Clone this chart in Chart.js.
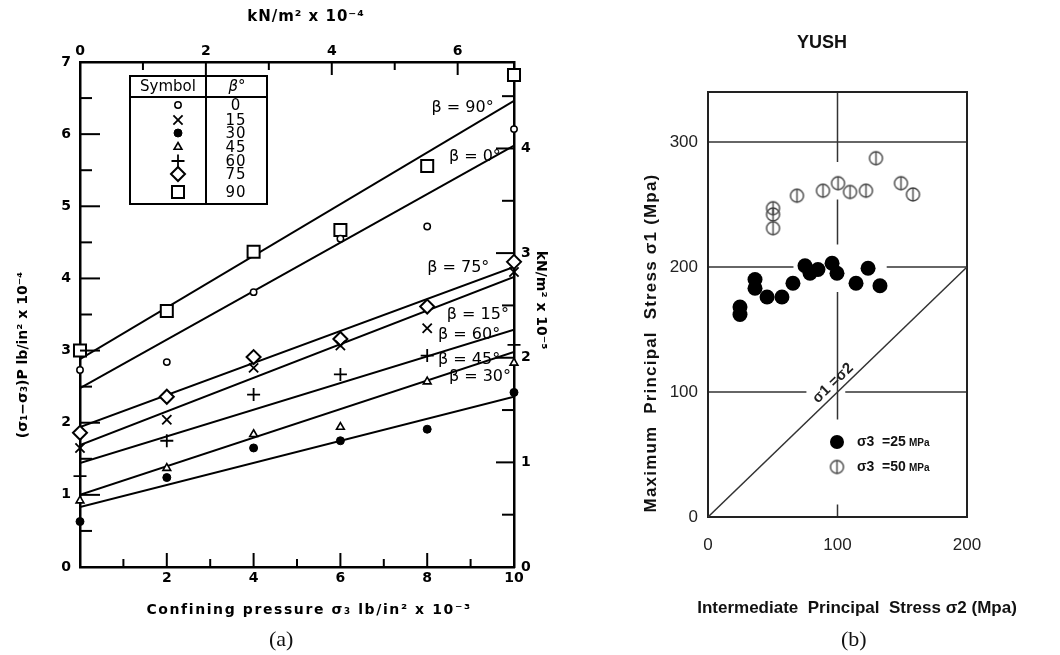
<!DOCTYPE html>
<html>
<head>
<meta charset="utf-8">
<script src="https://cdn.jsdelivr.net/npm/chart.js@4.4.0/dist/chart.umd.min.js"></script>
<style>
  body { margin: 0; background: #fff; width: 1060px; height: 655px; overflow: hidden; position: relative; }
  #wrapA { position: absolute; left: 0; top: 0; width: 560px; height: 655px; }
  #wrapB { position: absolute; left: 620px; top: 0; width: 440px; height: 655px; }
  .cap { position: absolute; font-family: "Liberation Serif", serif; font-size: 22px; color: #111; }
</style>
</head>
<body>
<div id="wrapA"><canvas id="chartA"></canvas></div>
<div id="wrapB"><canvas id="chartB"></canvas></div>
<div class="cap" style="left:269px; top:626px;">(a)</div>
<div class="cap" style="left:841px; top:626px;">(b)</div>
<script>
// ---- panel (a): strength vs confining pressure ----
const PSI_TO_SI = 0.6895; // 10^3 lb/in2 -> 10^4 kN/m2

const sigma3 = [0, 2, 4, 6, 8, 10];
const beta0  = [2.73, 2.84, 3.81, 4.55, 4.72, 6.07];
const beta15 = [1.65, 2.04, 2.76, 3.07, 3.31, 4.09];
const beta30 = [0.63, 1.24, 1.65, 1.75, 1.91, 2.42];
const beta45 = [0.92, 1.37, 1.84, 1.94, 2.57, 2.83];
const beta60 = [1.26, 1.75, 2.39, 2.67, 2.93, 3.08];
const beta75 = [1.86, 2.36, 2.91, 3.16, 3.61, 4.23];
const beta90 = [3.00, 3.55, 4.37, 4.67, 5.56, 6.82];

// fitted lines, ends at sigma3 = 0 and 10
const fitX   = [0, 10];
const fit0   = [2.48, 5.84];
const fit15  = [1.69, 4.02];
const fit30  = [0.83, 2.36];
const fit45  = [1.00, 2.98];
const fit60  = [1.44, 3.29];
const fit75  = [1.94, 4.16];
const fit90  = [2.88, 6.46];

const bottomLabels = [2, 4, 6, 8, 10];
const topLabels = [0, 2, 4, 6];
const leftLabels = [0, 1, 2, 3, 4, 5, 6, 7];
const rightLabels = [0, 1, 2, 3, 4];
const betaNames = ['0', '15', '30', '45', '60', '75', '90'];

// ---- panel (b): YUSH ----
const s2_25 = [24.7, 24.7, 36.3, 36.3, 45.6, 57.1, 65.6, 74.9, 78.8, 84.9, 95.8, 99.6, 114.3, 123.6, 132.8];
const s1_25 = [168, 162, 190, 183, 176, 176, 187, 201, 195, 198, 203, 195, 187, 199, 185];
const s2_50 = [50.2, 50.2, 50.2, 68.7, 88.8, 100.4, 109.7, 122.0, 129.7, 149.0, 158.3];
const s1_50 = [247, 242, 231, 257, 261, 267, 260, 261, 287, 267, 258];
const diagX = [0, 200];
const diagY = [0, 200];
const bTicks = [0, 100, 200, 300];

const pts = (xs, ys) => xs.map((x, i) => ({ x: x, y: ys[i] }));

const fontA = { family: '"DejaVu Sans", sans-serif', size: 14, weight: 'bold' };

const markStyles = [
  { pointStyle: 'circle',   radius: 3.2, fill: '#fff', bw: 1.5 },
  { pointStyle: 'crossRot', radius: 6.5, fill: '#000', bw: 1.8 },
  { pointStyle: 'circle',   radius: 4,   fill: '#000', bw: 1 },
  { pointStyle: 'triangle', radius: 4.5, fill: '#fff', bw: 1.6 },
  { pointStyle: 'cross',    radius: 6.5, fill: '#000', bw: 1.8 },
  { pointStyle: 'rectRot',  radius: 7,   fill: '#fff', bw: 2 },
  { pointStyle: 'rect',     radius: 8.5, fill: '#fff', bw: 2 }
];
const markData = [beta0, beta15, beta30, beta45, beta60, beta75, beta90];
const fitData = [fit0, fit15, fit30, fit45, fit60, fit75, fit90];

const lineLabels = [
  { text: 'β = 90°', x: 8.1,  y: 6.37 },
  { text: 'β = 0°',  x: 8.5,  y: 5.69 },
  { text: 'β = 75°', x: 8.0,  y: 4.15 },
  { text: 'β = 15°', x: 8.45, y: 3.50 },
  { text: 'β = 60°', x: 8.25, y: 3.22 },
  { text: 'β = 45°', x: 8.25, y: 2.87 },
  { text: 'β = 30°', x: 8.5,  y: 2.64 }
];

const datasetsA = [];
markData.forEach((d, i) => {
  const m = markStyles[i];
  datasetsA.push({
    label: 'β=' + betaNames[i], data: pts(sigma3, d), order: 0, clip: false,
    pointStyle: m.pointStyle, pointRadius: m.radius, pointBackgroundColor: m.fill,
    pointBorderColor: '#000', pointBorderWidth: m.bw, showLine: false
  });
});
fitData.forEach((d, i) => {
  datasetsA.push({
    label: 'fit ' + betaNames[i], data: pts(fitX, d), order: 1,
    showLine: true, pointRadius: 0, borderColor: '#000', borderWidth: 2
  });
});

function drawText(ctx, text, x, y, o) {
  ctx.save();
  ctx.translate(x, y);
  if (o.rotate) ctx.rotate(o.rotate);
  ctx.font = o.font;
  ctx.fillStyle = o.color || '#000';
  ctx.textAlign = o.align || 'center';
  ctx.textBaseline = 'middle';
  ctx.letterSpacing = (o.spacing || 0) + 'px';
  ctx.fillText(text, 0, 0);
  ctx.restore();
}

function drawMark(ctx, m, x, y) {
  ctx.save();
  ctx.fillStyle = m.fill;
  ctx.strokeStyle = '#000';
  ctx.lineWidth = m.bw;
  Chart.helpers.drawPoint(ctx, { pointStyle: m.pointStyle, radius: m.radius, rotation: 0, borderWidth: m.bw }, x, y);
  ctx.restore();
}

const decorA = {
  id: 'decorA',
  afterDraw(chart) {
    const { ctx, chartArea: ca, scales } = chart;
    ctx.save();
    ctx.strokeStyle = '#000';
    ctx.lineWidth = 2;
    const seg = (x1, y1, x2, y2) => { ctx.beginPath(); ctx.moveTo(x1, y1); ctx.lineTo(x2, y2); ctx.stroke(); };
    scales.x.ticks.forEach(t => {
      if (t.value <= 0 || t.value >= 10) return;
      const p = scales.x.getPixelForValue(t.value);
      seg(p, ca.bottom, p, ca.bottom - (t.value % 2 === 0 ? 14 : 8));
    });
    scales.x2.ticks.forEach(t => {
      if (t.value <= 0) return;
      const p = scales.x2.getPixelForValue(t.value);
      seg(p, ca.top, p, ca.top + (t.value % 2 === 0 ? 13 : 8));
    });
    scales.y.ticks.forEach(t => {
      if (t.value <= 0 || t.value >= 7) return;
      const p = scales.y.getPixelForValue(t.value);
      seg(ca.left, p, ca.left + (Number.isInteger(t.value) ? 20 : 12), p);
    });
    scales.y2.ticks.forEach(t => {
      if (t.value <= 0) return;
      const p = scales.y2.getPixelForValue(t.value);
      seg(ca.right, p, ca.right - (Number.isInteger(t.value) ? 18 : 12), p);
    });
    ctx.restore();

    // line labels
    const lf = '16px "DejaVu Sans", sans-serif';
    lineLabels.forEach(l => {
      drawText(ctx, l.text, scales.x.getPixelForValue(l.x), scales.y.getPixelForValue(l.y), { font: lf, align: 'left' });
    });

    // axis titles
    drawText(ctx, 'kN/m² x 10⁻⁴', 306, 17, { font: 'bold 15px "DejaVu Sans", sans-serif', spacing: 1 });
    drawText(ctx, 'Confining pressure σ₃ lb/in² x 10⁻³', 309, 610, { font: 'bold 14px "DejaVu Sans", sans-serif', spacing: 1.6 });
    drawText(ctx, '(σ₁−σ₃)P lb/in² x 10⁻⁴', 23, 355, { font: 'bold 14px "DejaVu Sans", sans-serif', rotate: -Math.PI / 2 });
    drawText(ctx, 'kN/m² x 10⁻⁵', 541, 300, { font: 'bold 14px "DejaVu Sans", sans-serif', rotate: Math.PI / 2 });

    // symbol table
    const L = ca.left + 50, T = ca.top + 14, W = 137, H = 128, mid = L + 76;
    ctx.save();
    ctx.strokeStyle = '#000';
    ctx.lineWidth = 2;
    ctx.strokeRect(L, T, W, H);
    seg(L, T + 21, L + W, T + 21);
    seg(mid, T, mid, T + H);
    ctx.restore();
    drawText(ctx, 'Symbol', L + 38, T + 11, { font: '15px "DejaVu Sans", sans-serif' });
    drawText(ctx, 'β°', mid + 31, T + 11, { font: 'italic 15px "DejaVu Sans", sans-serif' });
    const rowY = [29, 44, 57, 71, 85, 98, 116];
    markStyles.forEach((m, i) => {
      drawMark(ctx, m, L + 48, T + rowY[i]);
      drawText(ctx, betaNames[i], mid + 30, T + rowY[i] + 1, { font: '15px "DejaVu Sans", sans-serif', spacing: 1 });
    });
  }
};

new Chart(document.getElementById('chartA'), {
  type: 'scatter',
  data: { datasets: datasetsA },
  options: {
    responsive: true, maintainAspectRatio: false, animation: false, devicePixelRatio: 1,
    layout: { padding: 0 },
    plugins: { legend: { display: false }, tooltip: { enabled: false } },
    scales: {
      x: {
        type: 'linear', position: 'bottom', min: 0, max: 10,
        afterFit: s => { s.height = 88; },
        grid: { display: false, drawTicks: false },
        border: { color: '#000', width: 2.5 },
        ticks: { stepSize: 1, autoSkip: false, includeBounds: false, maxRotation: 0, padding: 3, font: fontA, color: '#000',
          callback: v => bottomLabels.includes(v) ? String(v) : '' }
      },
      x2: {
        type: 'linear', position: 'top', min: 0, max: 10 * PSI_TO_SI,
        afterFit: s => { s.height = 62; },
        grid: { display: false, drawTicks: false },
        border: { color: '#000', width: 2.5 },
        ticks: { stepSize: 1, autoSkip: false, includeBounds: false, maxRotation: 0, padding: 2, font: fontA, color: '#000',
          callback: v => topLabels.includes(v) ? String(v) : '' }
      },
      y: {
        type: 'linear', position: 'left', min: 0, max: 7,
        afterFit: s => { s.width = 80; },
        grid: { display: false, drawTicks: false },
        border: { color: '#000', width: 2.5 },
        ticks: { stepSize: 0.5, autoSkip: false, includeBounds: false, padding: 9, font: fontA, color: '#000',
          callback: v => leftLabels.includes(v) ? String(v) : '' }
      },
      y2: {
        type: 'linear', position: 'right', min: 0, max: 7 * PSI_TO_SI,
        afterFit: s => { s.width = 46; },
        grid: { display: false, drawTicks: false },
        border: { color: '#000', width: 2.5 },
        ticks: { stepSize: 0.5, autoSkip: false, includeBounds: false, padding: 7, font: fontA, color: '#000',
          callback: v => rightLabels.includes(v) ? String(v) : '' }
      }
    }
  },
  plugins: [decorA]
});

// ---- panel (b) ----
function barCircle(r, color) {
  const c = document.createElement('canvas');
  const s = Math.ceil(2 * r + 4);
  c.width = s; c.height = s;
  const g = c.getContext('2d');
  g.strokeStyle = color; g.lineWidth = 1.4;
  g.beginPath(); g.arc(s / 2, s / 2, r, 0, 2 * Math.PI); g.stroke();
  g.beginPath(); g.moveTo(s / 2, s / 2 - r); g.lineTo(s / 2, s / 2 + r); g.stroke();
  return c;
}
const barImg = barCircle(6.5, '#444');
const fontB = { family: '"Liberation Sans", Arial, sans-serif', size: 17 };

// pieces of the hand-drawn grid (breaks left round the points and the label)
const gridV = [{ at: 100, from: [[284, 340], [218, 254], [78, 180], [0, 10]] }];
const gridH = [
  { at: 300, from: [[0, 200]] },
  { at: 200, from: [[0, 66], [138, 200]] },
  { at: 100, from: [[0, 76], [106, 200]] }
];

const legendB = [
  { x: 99.6, y: 60, kind: 'filled', val: '=25' },
  { x: 99.6, y: 40, kind: 'bar', val: '=50' }
];

const decorB = {
  id: 'decorB',
  beforeDatasetsDraw(chart) {
    const { ctx, chartArea: ca, scales } = chart;
    const xs = scales.x, ys = scales.y;
    ctx.save();
    ctx.strokeStyle = '#333';
    ctx.lineWidth = 1.5;
    gridV.forEach(g => {
      const px = xs.getPixelForValue(g.at);
      g.from.forEach(r => { ctx.beginPath(); ctx.moveTo(px, ys.getPixelForValue(r[0])); ctx.lineTo(px, ys.getPixelForValue(r[1])); ctx.stroke(); });
    });
    gridH.forEach(g => {
      const py = ys.getPixelForValue(g.at);
      g.from.forEach(r => { ctx.beginPath(); ctx.moveTo(xs.getPixelForValue(r[0]), py); ctx.lineTo(xs.getPixelForValue(r[1]), py); ctx.stroke(); });
    });
    ctx.strokeStyle = '#222';
    ctx.lineWidth = 2;
    ctx.strokeRect(ca.left, ca.top, ca.right - ca.left, ca.bottom - ca.top);
    ctx.restore();
  },
  afterDraw(chart) {
    const { ctx, scales } = chart;
    const xs = scales.x, ys = scales.y;
    drawText(ctx, 'YUSH', 202, 43, { font: 'bold 18px "Liberation Sans", Arial, sans-serif', color: '#111' });
    drawText(ctx, 'Intermediate  Principal  Stress σ2 (Mpa)', 237, 608, { font: 'bold 17px "Liberation Sans", Arial, sans-serif', color: '#111' });
    drawText(ctx, 'Maximum  Principal  Stress σ1 (Mpa)', 31, 343, { font: 'bold 17px "Liberation Sans", Arial, sans-serif', color: '#111', rotate: -Math.PI / 2, spacing: 1.2 });

    const ang = Math.atan2(ys.getPixelForValue(200) - ys.getPixelForValue(0), xs.getPixelForValue(200) - xs.getPixelForValue(0));
    drawText(ctx, 'σ1 =σ2', xs.getPixelForValue(96.5), ys.getPixelForValue(107), { font: 'bold 15px "Liberation Sans", Arial, sans-serif', color: '#222', rotate: ang });

    legendB.forEach(l => {
      const px = xs.getPixelForValue(l.x), py = ys.getPixelForValue(l.y);
      if (l.kind === 'filled') {
        ctx.save(); ctx.fillStyle = '#000';
        ctx.beginPath(); ctx.arc(px, py, 7, 0, 2 * Math.PI); ctx.fill();
        ctx.restore();
      } else {
        ctx.drawImage(barImg, px - barImg.width / 2, py - barImg.height / 2);
      }
      drawText(ctx, 'σ3', px + 20, py, { font: 'bold 14px "Liberation Sans", Arial, sans-serif', color: '#111', align: 'left' });
      drawText(ctx, l.val, px + 45, py, { font: 'bold 14px "Liberation Sans", Arial, sans-serif', color: '#111', align: 'left' });
      drawText(ctx, 'MPa', px + 72, py + 1, { font: 'bold 10px "Liberation Sans", Arial, sans-serif', color: '#111', align: 'left' });
    });
  }
};

new Chart(document.getElementById('chartB'), {
  type: 'scatter',
  data: {
    datasets: [
      { label: 'σ3 = 25 MPa', data: pts(s2_25, s1_25), order: 0, clip: false, pointStyle: 'circle', pointRadius: 7.5,
        pointBackgroundColor: '#000', pointBorderColor: '#000', pointBorderWidth: 0 },
      { label: 'σ3 = 50 MPa', data: pts(s2_50, s1_50), order: 0, clip: false, pointStyle: barImg, pointRadius: 7 },
      { label: 'σ1 = σ2', data: pts(diagX, diagY), order: 1, showLine: true, pointRadius: 0,
        borderColor: '#333', borderWidth: 1.5 }
    ]
  },
  options: {
    responsive: true, maintainAspectRatio: false, animation: false, devicePixelRatio: 1,
    layout: { padding: { top: 92, right: 93, left: 0, bottom: 0 } },
    plugins: { legend: { display: false }, tooltip: { enabled: false } },
    scales: {
      x: {
        type: 'linear', min: 0, max: 200,
        afterFit: s => { s.height = 138; },
        grid: { display: false, drawTicks: false },
        border: { color: '#222', width: 2 },
        ticks: { stepSize: 100, autoSkip: false, includeBounds: false, maxRotation: 0, padding: 18, font: fontB, color: '#222',
          callback: v => bTicks.includes(v) ? String(v) : '' }
      },
      y: {
        type: 'linear', min: 0, max: 340,
        afterFit: s => { s.width = 88; },
        grid: { display: false, drawTicks: false },
        border: { color: '#222', width: 2 },
        ticks: { stepSize: 100, autoSkip: false, includeBounds: false, padding: 10, font: fontB, color: '#222',
          callback: v => bTicks.includes(v) ? String(v) : '' }
      }
    }
  },
  plugins: [decorB]
});
</script>
</body>
</html>
